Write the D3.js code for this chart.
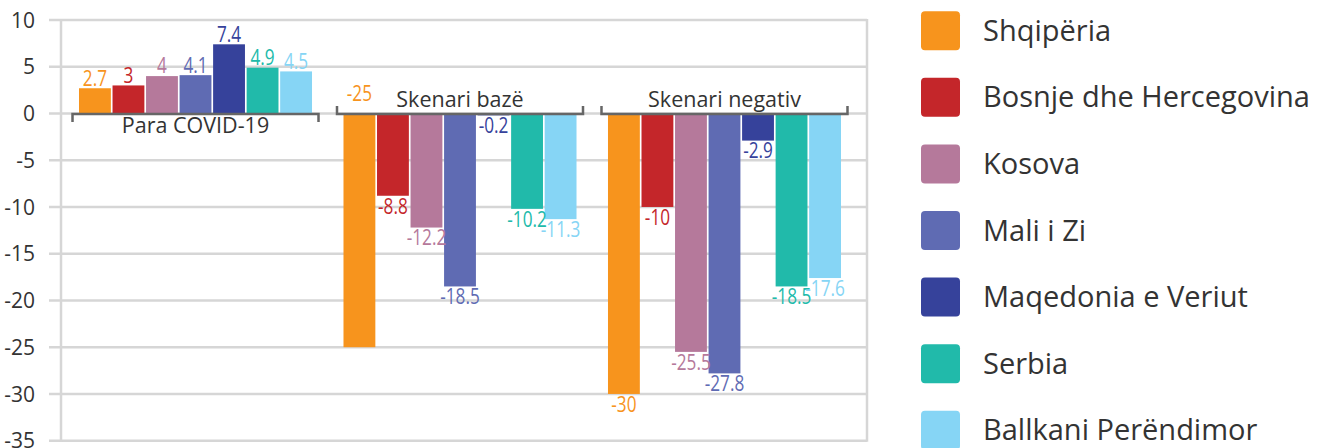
<!DOCTYPE html>
<html>
<head>
<meta charset="utf-8">
<script src="https://cdn.jsdelivr.net/npm/d3@7"></script>
<style>
  html, body { margin: 0; padding: 0; background: #fff; }
  svg { display: block; }
  text { font-family: "Open Sans", "Noto Sans", sans-serif; }
</style>
</head>
<body>
<svg id="chart" width="1327" height="448"></svg>
<script>
const groups = ["Para COVID-19", "Skenari bazë", "Skenari negativ"];
const series = ["Shqipëria", "Bosnje dhe Hercegovina", "Kosova", "Mali i Zi", "Maqedonia e Veriut", "Serbia", "Ballkani Perëndimor"];
const colors = ["#F7941D", "#C4262A", "#B5799B", "#5F6BB3", "#36429B", "#21BAAA", "#86D5F5"];
const valParaCovid = [2.7, 3, 4, 4.1, 7.4, 4.9, 4.5];
const valBaze = [-25, -8.8, -12.2, -18.5, -0.2, -10.2, -11.3];
const valNegativ = [-30, -10, -25.5, -27.8, -2.9, -18.5, -17.6];
const yTicks = [10, 5, 0, -5, -10, -15, -20, -25, -30, -35];
// label drawn near the base (as in the source) : [groupIndex, seriesIndex]
const labelsAtBase = [[1, 0]];

const values = [valParaCovid, valBaze, valNegativ];
const svg = d3.select("#chart");

const y = d3.scaleLinear().domain([-35, 10]).range([440.7, 20]);
const x0 = d3.scaleBand().domain(groups).range([79, 841]).paddingInner(0.119);
const x1 = d3.scaleBand().domain(series).range([0, x0.bandwidth()]).paddingInner(0.05);

const gridColor = "#d6d6d6";
const plotLeft = 61, plotRight = 867;

// horizontal gridlines
svg.append("g").selectAll("line").data(yTicks).join("line")
  .attr("x1", 49).attr("x2", plotRight)
  .attr("y1", d => y(d)).attr("y2", d => y(d))
  .attr("stroke", gridColor).attr("stroke-width", 2.5);

// vertical frame lines
[plotLeft, plotRight].forEach(xv => {
  svg.append("line").attr("x1", xv).attr("x2", xv)
    .attr("y1", y(10) - 1).attr("y2", y(-35) + 1)
    .attr("stroke", gridColor).attr("stroke-width", 2.5);
});

// y tick labels
svg.append("g").selectAll("text").data(yTicks).join("text")
  .attr("x", 35).attr("y", d => y(d))
  .attr("dy", "0.36em")
  .attr("text-anchor", "end")
  .attr("font-size", 21)
  .attr("fill", "#333")
  .text(d => d);

// bars
const gBars = svg.append("g");
groups.forEach((g, gi) => {
  series.forEach((s, si) => {
    const v = values[gi][si];
    gBars.append("rect")
      .attr("x", x0(g) + x1(s))
      .attr("width", x1.bandwidth())
      .attr("y", Math.min(y(v), y(0)))
      .attr("height", Math.abs(y(v) - y(0)))
      .attr("fill", colors[si]);
  });
});

// category brackets + labels
const bracketHalf = 123;
groups.forEach((g, gi) => {
  const cx = x0(g) + x0.bandwidth() / 2;
  const positive = d3.sum(values[gi]) >= 0;
  const by = y(0) + 0.6;
  const tick = positive ? 8 : -8;
  svg.append("path")
    .attr("d", `M${cx - bracketHalf},${by + tick}V${by}H${cx + bracketHalf}V${by + tick}`)
    .attr("fill", "none").attr("stroke", "#666").attr("stroke-width", 2.5);
  svg.append("text")
    .attr("x", cx)
    .attr("y", positive ? by + 18.5 : by - 6.8)
    .attr("text-anchor", "middle")
    .attr("font-size", 21.5)
    .attr("fill", "#333")
    .text(g);
});

// value labels
const gLab = svg.append("g");
groups.forEach((g, gi) => {
  series.forEach((s, si) => {
    const v = values[gi][si];
    const cx = x0(g) + x1(s) + x1.bandwidth() / 2;
    let ly;
    const atBase = labelsAtBase.some(p => p[0] === gi && p[1] === si);
    if (atBase) ly = y(0) - 12.5;
    else if (v >= 0) ly = y(v) - 2.6;
    else ly = y(v) + 17.8;
    gLab.append("text")
      .attr("transform", `translate(${cx},${ly}) scale(0.8,1)`)
      .attr("text-anchor", "middle")
      .attr("font-size", 21.5)
      .attr("fill", colors[si])
      .text(String(v));
  });
});

// legend
const legend = svg.append("g");
series.forEach((s, si) => {
  const top = 11.3 + si * 66.57;
  legend.append("rect")
    .attr("x", 921).attr("y", top)
    .attr("width", 39).attr("height", 39)
    .attr("rx", 4).attr("ry", 4)
    .attr("fill", colors[si]);
  legend.append("text")
    .attr("x", 983).attr("y", top + 19.5 + 10)
    .attr("font-size", 29)
    .attr("fill", "#333")
    .text(s);
});
</script>
</body>
</html>
